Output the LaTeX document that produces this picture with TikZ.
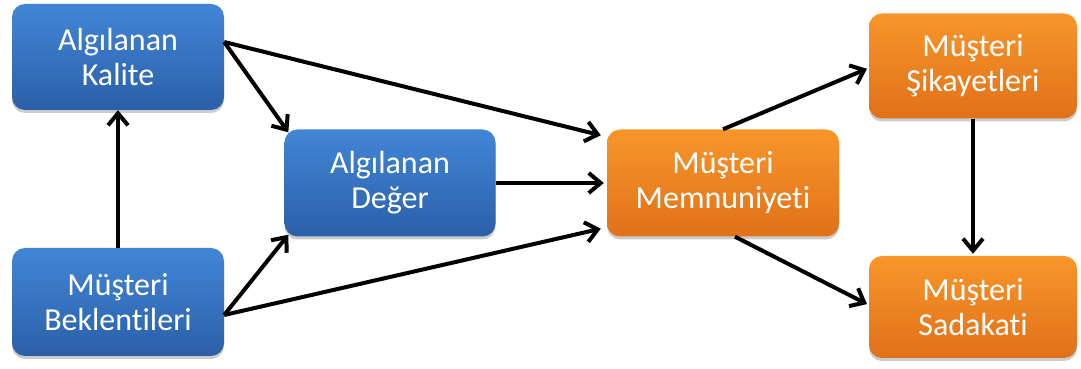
\documentclass[tikz,border=0pt]{standalone}
\usepackage{fontspec}
\setmainfont{Carlito}[Ligatures=NoCommon]
\usetikzlibrary{arrows.meta,shadows}
\definecolor{bluetop}{HTML}{4186D6}
\definecolor{bluebot}{HTML}{2C5FA8}
\definecolor{orgtop}{HTML}{F8962A}
\definecolor{orgbot}{HTML}{E0711A}
\begin{document}
\begin{tikzpicture}[x=1pt,y=1pt,
  box/.style={rectangle, rounded corners=13pt, inner sep=0pt, align=center,
    text=white, font=\fontsize{32}{35}\selectfont,
    drop shadow={shadow xshift=0pt, shadow yshift=-3pt, opacity=0.2, fill=black}},
  bluebox/.style={box, top color=bluetop, bottom color=bluebot},
  orgbox/.style={box, top color=orgtop, bottom color=orgbot},
  link/.style={line width=4pt, -{Straight Barb[length=12pt,width=20pt]}}]
\useasboundingbox (0,0) rectangle (1081,369);
% boxes
\node[bluebox, minimum width=212pt, minimum height=106pt] (kal) at (118,312) {Algılanan\\Kalite};
\node[bluebox, minimum width=212pt, minimum height=108pt] (bek) at (118,67) {Müşteri\\Beklentileri};
\node[bluebox, minimum width=211pt, minimum height=107pt] (deg) at (390,186) {Algılanan\\Değer};
\node[orgbox, minimum width=232pt, minimum height=107pt] (mem) at (723,186) {Müşteri\\Memnuniyeti};
\node[orgbox, minimum width=208pt, minimum height=105pt] (sik) at (973,303) {Müşteri\\Şikayetleri};
\node[orgbox, minimum width=208pt, minimum height=102pt] (sad) at (973,62) {Müşteri\\Sadakati};
% connectors
\draw[link] (bek.north) -- (kal.south);
\draw[link] ([yshift=15pt]kal.east) -- ([shift={(4,-3)}]deg.north west);
\draw[link] ([yshift=15pt]kal.east) -- ([shift={(-6,-6)}]mem.north west);
\draw[link] ([yshift=-13pt]bek.east) -- ([shift={(4,2)}]deg.south west);
\draw[link] ([yshift=-13pt]bek.east) -- ([shift={(-6,8)}]mem.south west);
\draw[link, shorten >=3pt] (deg.east) -- (mem.west);
\draw[link, shorten >=2pt] (mem.north) -- ([yshift=-2pt]sik.west);
\draw[link, shorten >=2pt] ([xshift=12pt]mem.south) -- ([yshift=2pt]sad.west);
\draw[link, shorten >=2pt] (sik.south) -- (sad.north);
\end{tikzpicture}
\end{document}
